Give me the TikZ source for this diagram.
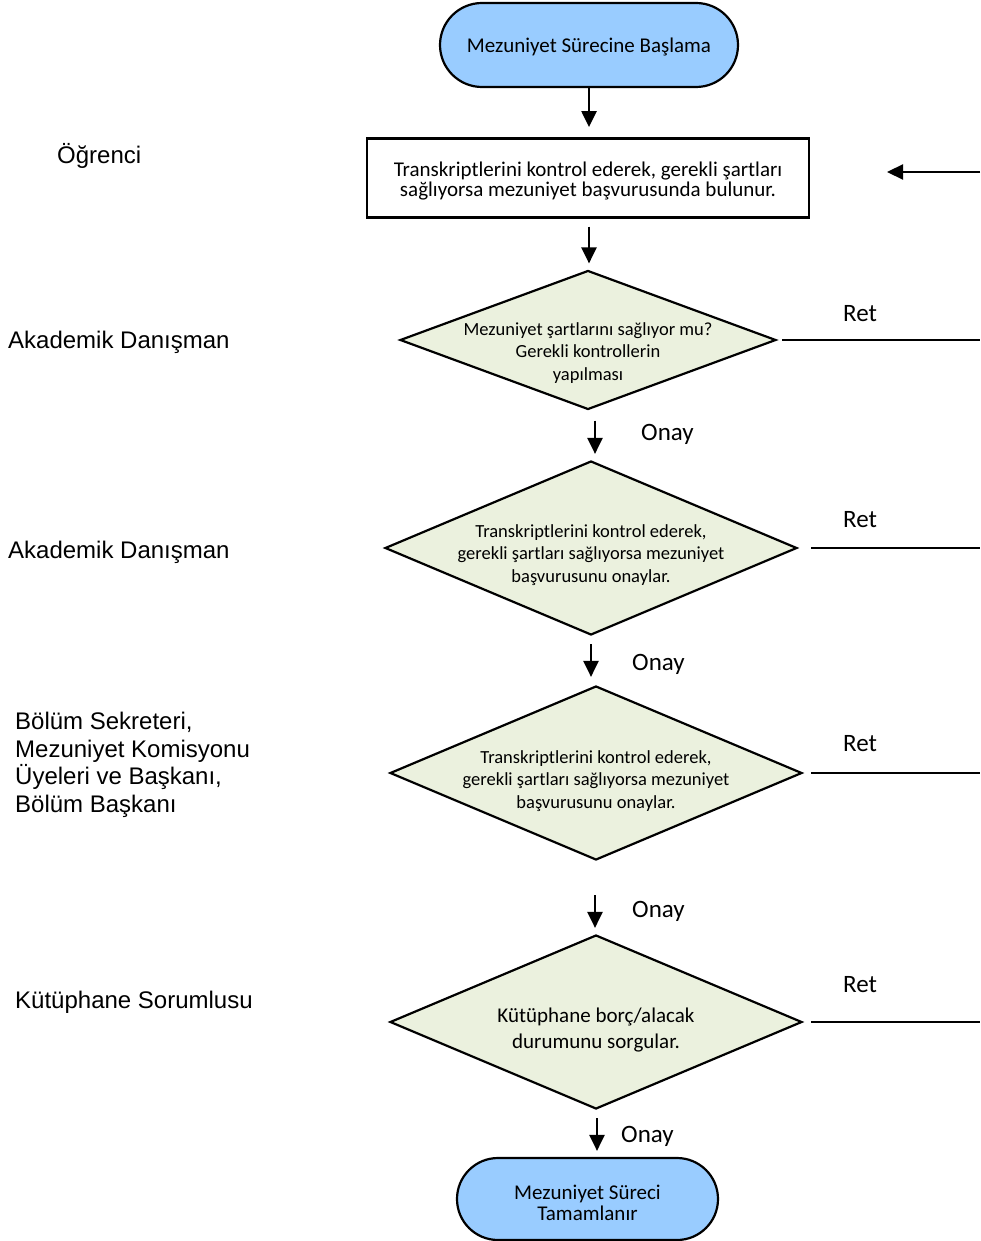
\documentclass[tikz,border=0pt]{standalone}
\usepackage{fontspec}
\setmainfont{Carlito}
\newfontfamily\arialf{Liberation Sans}
\usetikzlibrary{shapes.geometric,arrows.meta}
\definecolor{termblue}{HTML}{99CCFF}
\definecolor{decgreen}{HTML}{EBF1DE}
\begin{document}
\begin{tikzpicture}[x=1pt,y=-1pt,
  every node/.style={inner sep=0pt},
  term/.style={draw, line width=2.2pt, fill=termblue, rectangle, align=center},
  procbox/.style={draw, line width=2.2pt, fill=white, rectangle, align=center},
  dec/.style={draw, line width=2.2pt, fill=decgreen, diamond},
  dectext/.style={align=center, font=\fontsize{18.5}{22.5}\selectfont},
  arr/.style={line width=2.3pt, -{Triangle[length=16pt,width=15pt]}},
  conn/.style={line width=2.3pt},
  lbl/.style={anchor=west, font=\fontsize{25}{25}\selectfont},
  role/.style={anchor=west, align=left, font=\arialf\fontsize{24}{27.5}\selectfont}]
\useasboundingbox (0,0) rectangle (980,1241);

% shapes
\node[term, rounded corners=42pt, minimum width=298pt, minimum height=84pt] (start) at (589,45) {};
\node[font=\fontsize{21}{21}\selectfont] (st) at ([yshift=-2]start.center) {Mezuniyet Sürecine Başlama};
\node[procbox, minimum width=442pt, minimum height=79pt] (box) at (588,178) {};
\node[align=center, font=\fontsize{21}{19.5}\selectfont] (bt) at ([yshift=-3]box.center) {Transkriptlerini kontrol ederek, gerekli şartları\\sağlıyorsa mezuniyet başvurusunda bulunur.};
\node[dec, minimum width=376pt, minimum height=139pt] (d1) at (588,340) {};
\node[dectext] (t1) at ([yshift=-13]d1.center) {Mezuniyet şartlarını sağlıyor mu?\\Gerekli kontrollerin\\yapılması};
\node[dec, minimum width=412pt, minimum height=174pt] (d2) at (591,548) {};
\node[dectext] (t2) at ([yshift=-7]d2.center) {Transkriptlerini kontrol ederek,\\gerekli şartları sağlıyorsa mezuniyet\\başvurusunu onaylar.};
\node[dec, minimum width=412pt, minimum height=174pt] (d3) at (596,773) {};
\node[dectext] (t3) at ([yshift=-8]d3.center) {Transkriptlerini kontrol ederek,\\gerekli şartları sağlıyorsa mezuniyet\\başvurusunu onaylar.};
\node[dec, minimum width=412pt, minimum height=174pt] (d4) at (596,1022) {};
\node[align=center, font=\fontsize{21}{26}\selectfont] (t4) at ([yshift=-8]d4.center) {Kütüphane borç/alacak\\durumunu sorgular.};
\node[term, rounded corners=41pt, minimum width=261pt, minimum height=82pt] (end) at (587.5,1199) {};
\node[align=center, font=\fontsize{21}{21}\selectfont] (et) at ([yshift=-4]end.center) {Mezuniyet Süreci\\Tamamlanır};

% vertical arrows
\draw[arr] (start.south) -- ++(0,39);
\draw[arr] ([xshift=1,yshift=-8]box.south) -- ([xshift=1,yshift=6]d1.north);
\draw[arr] ([xshift=7,yshift=-10]d1.south) -- ([xshift=4,yshift=6]d2.north);
\draw[arr] ([yshift=-8]d2.south) -- ([xshift=-5,yshift=8]d3.north);
\draw[arr] ([xshift=-1,yshift=-34]d3.south) -- ([xshift=-1,yshift=6]d4.north);
\draw[arr] ([xshift=1,yshift=-8]d4.south) -- ([xshift=9.5,yshift=6]end.north);

% right edge connectors
\coordinate (edge) at (980,0);
\coordinate (r0) at (980,172);
\coordinate (t0) at (887,172);
\draw[arr] (r0) -- (t0);
\draw[conn] ([xshift=5]d1.east) -- (d1.east -| edge);
\draw[conn] ([xshift=13]d2.east) -- (d2.east -| edge);
\draw[conn] ([xshift=8]d3.east) -- (d3.east -| edge);
\draw[conn] ([xshift=8]d4.east) -- (d4.east -| edge);

% Ret / Onay labels
\node[lbl] (ret1) at (843,314) {Ret};
\node[lbl] (ret2) at (843,520) {Ret};
\node[lbl] (ret3) at (843,744) {Ret};
\node[lbl] (ret4) at (843,985) {Ret};
\node[lbl] (on1) at (641,434) {Onay};
\node[lbl] (on2) at (632,664) {Onay};
\node[lbl] (on3) at (632,911) {Onay};
\node[lbl] (on4) at (621,1136) {Onay};

% role labels
\node[role] (ro1) at (57,156) {Öğrenci};
\node[role] (ro2) at (8,342) {Akademik Danışman};
\node[role] (ro3) at (8,552) {Akademik Danışman};
\node[role] (ro4) at (15,765) {Bölüm Sekreteri,\\Mezuniyet Komisyonu\\Üyeleri ve Başkanı,\\Bölüm Başkanı};
\node[role] (ro5) at (15,1002) {Kütüphane Sorumlusu};
\end{tikzpicture}
\end{document}
